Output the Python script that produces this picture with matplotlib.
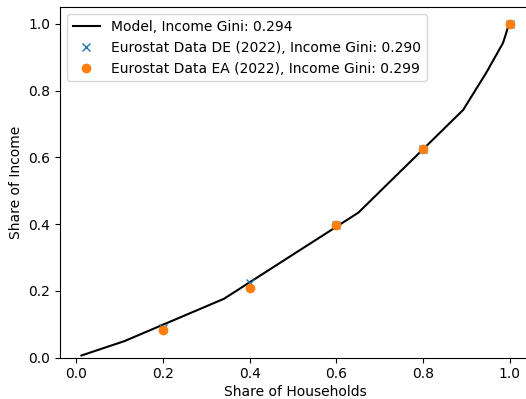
import numpy as np
import matplotlib
matplotlib.use("Agg")
import matplotlib.pyplot as plt

# Lorenz curve of the model (cumulative shares)
model_households = [0.012, 0.111, 0.341, 0.651, 0.893, 0.946, 0.985, 0.996, 1.0]
model_income     = [0.006, 0.049, 0.176, 0.434, 0.742, 0.853, 0.943, 0.988, 1.0]

# Eurostat quintile shares (cumulative)
quintiles = [0.2, 0.4, 0.6, 0.8, 1.0]
income_de = [0.087, 0.223, 0.396, 0.626, 1.0]
income_ea = [0.081, 0.209, 0.396, 0.626, 1.0]

gini_model = 0.294
gini_de = 0.290
gini_ea = 0.299

fig = plt.figure(figsize=(5.26, 3.99), dpi=100)
ax = fig.add_axes([0.1141, 0.104, 0.8954, 0.878])

ax.plot(model_households, model_income, color='black',
        label=f'Model, Income Gini: {gini_model:.3f}')
ax.plot(quintiles, income_de, 'x', color='C0',
        label=f'Eurostat Data DE (2022), Income Gini: {gini_de:.3f}')
ax.plot(quintiles, income_ea, 'o', color='C1',
        label=f'Eurostat Data EA (2022), Income Gini: {gini_ea:.3f}')

ax.set_ylim(bottom=0)
ax.set_xlabel('Share of Households', labelpad=3)
ax.set_ylabel('Share of Income')
ax.legend(loc='upper left')

fig.savefig('out.png', dpi=100)
